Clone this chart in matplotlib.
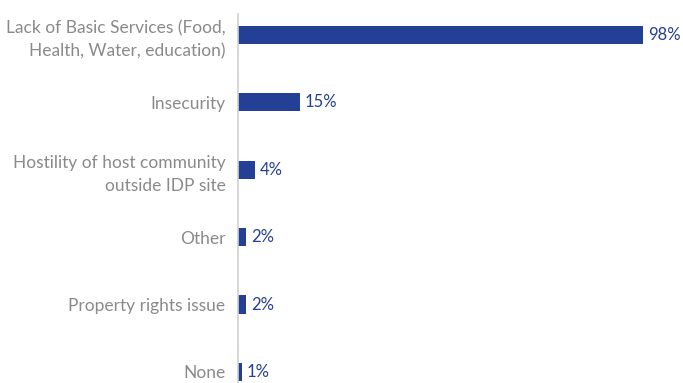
import matplotlib.pyplot as plt

# data
categories = [
    "Lack of Basic Services (Food,\nHealth, Water, education)",
    "Insecurity",
    "Hostility of host community\noutside IDP site",
    "Other",
    "Property rights issue",
    "None",
]
values = [98, 15, 4, 2, 2, 1]
value_labels = ["98%", "15%", "4%", "2%", "2%", "1%"]

bar_color = "#243f96"
label_color = "#8a8a8a"

plt.rcParams["font.family"] = ["Lato", "DejaVu Sans"]

fig = plt.figure(figsize=(6.83, 3.83), dpi=100)
ax = fig.add_axes([238 / 683, 0, 413 / 683, 1 - 14 / 383])

pos = list(range(len(categories)))
ax.barh(pos, values, height=0.27, color=bar_color)

for p, v, lab in zip(pos, values, value_labels):
    ax.text(v + 1.2, p, lab, va="center", ha="left",
            fontsize=12, color=bar_color)

ax.set_xlim(0, 100)
ax.set_ylim(5 + 11 / 67.4, -0.31)
ax.set_yticks(pos)
ax.set_yticklabels(categories, fontsize=12.5, color=label_color,
                   linespacing=1.5)
ax.tick_params(axis="y", length=0, pad=9)
ax.set_xticks([])

for side in ["top", "right", "bottom"]:
    ax.spines[side].set_visible(False)
ax.spines["left"].set_color("#d0d0d0")
ax.spines["left"].set_linewidth(1.2)

fig.savefig("out.png", dpi=100)
